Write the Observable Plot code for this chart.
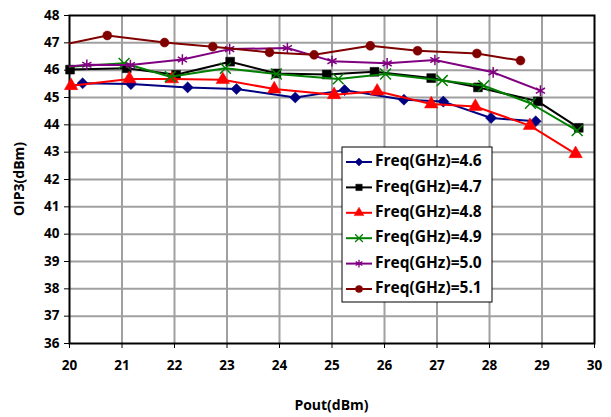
<!DOCTYPE html>
<html>
<head>
<meta charset="utf-8">
<script src="https://cdn.jsdelivr.net/npm/d3@7"></script>
<script src="https://cdn.jsdelivr.net/npm/@observablehq/plot@0.6"></script>
<style>
  html, body { margin: 0; padding: 0; background: #fff; }
  #chart svg { display: block; }
</style>
</head>
<body>
<div id="chart"></div>
<script>
// ---- data ----
const seriesNames = ["Freq(GHz)=4.6", "Freq(GHz)=4.7", "Freq(GHz)=4.8", "Freq(GHz)=4.9", "Freq(GHz)=5.0", "Freq(GHz)=5.1"];
const seriesColors = ["#000080", "#000000", "#FF0000", "#008000", "#800080", "#800000"];
const seriesSymbols = ["diamond2", "square", "triangle", "times", "asterisk", "circle"];
const seriesFilled = [true, true, true, false, false, true];

const x46 = [19.8, 20.25, 21.17, 22.25, 23.18, 24.30, 25.24, 26.37, 27.12, 28.03, 28.88];
const y46 = [45.25, 45.52, 45.49, 45.37, 45.31, 45.00, 45.27, 44.92, 44.85, 44.25, 44.13];

const x47 = [20.01, 21.09, 22.03, 23.06, 23.94, 24.90, 25.81, 26.89, 27.78, 28.92, 29.70];
const y47 = [46.02, 46.07, 45.83, 46.31, 45.88, 45.84, 45.94, 45.71, 45.37, 44.86, 43.89];

const x48 = [20.03, 21.14, 21.95, 22.92, 23.90, 25.04, 25.86, 26.89, 27.73, 28.77, 29.64];
const y48 = [45.43, 45.68, 45.68, 45.65, 45.31, 45.10, 45.23, 44.76, 44.67, 43.97, 42.94];

const x49 = [19.8, 21.04, 21.92, 22.97, 23.94, 25.12, 26.02, 27.10, 27.89, 28.78, 29.67];
const y49 = [46.10, 46.25, 45.76, 46.07, 45.86, 45.68, 45.86, 45.62, 45.43, 44.79, 43.79];

const x50 = [19.8, 20.33, 21.16, 22.15, 23.05, 24.15, 25.00, 26.05, 26.96, 28.07, 28.97];
const y50 = [46.10, 46.20, 46.19, 46.39, 46.77, 46.81, 46.33, 46.25, 46.37, 45.92, 45.25];

const x51 = [19.8, 20.72, 21.81, 22.73, 23.81, 24.66, 25.73, 26.63, 27.76, 28.59];
const y51 = [46.90, 47.27, 47.01, 46.86, 46.65, 46.56, 46.89, 46.71, 46.61, 46.35];

const xTicks = [20, 21, 22, 23, 24, 25, 26, 27, 28, 29, 30];
const yTicks = [36, 37, 38, 39, 40, 41, 42, 43, 44, 45, 46, 47, 48];
const xLabel = "Pout(dBm)";
const yLabel = "OIP3(dBm)";

// ---- build table ----
const xs = [x46, x47, x48, x49, x50, x51];
const ys = [y46, y47, y48, y49, y50, y51];
const rows = [];
xs.forEach((xa, i) => xa.forEach((x, j) => rows.push({series: seriesNames[i], idx: i, x, y: ys[i][j]})));

const FONT = "'Open Sans', 'DejaVu Sans', sans-serif";
const W = 611, H = 417;
const mL = 69, mR = 17, mT = 15, mB = 74;

const marks = [
  Plot.gridX(xTicks.slice(1, -1), {stroke: "#a0a0a0", strokeWidth: 2, strokeOpacity: 1}),
  Plot.gridY(yTicks.slice(1, -1), {stroke: "#a0a0a0", strokeWidth: 2, strokeOpacity: 1}),
  Plot.frame({stroke: "#000", strokeWidth: 2}),
  Plot.axisX(xTicks, {tickSize: 5, tickPadding: 12, fontSize: 13.5, fontWeight: "bold", label: null, stroke: "#000"}),
  Plot.axisY(yTicks, {tickSize: 5, tickPadding: 5, fontSize: 13.5, fontWeight: "bold", label: null, stroke: "#000"})
];
seriesNames.forEach((name, i) => {
  const data = rows.filter(d => d.idx === i);
  marks.push(Plot.line(data, {x: "x", y: "y", stroke: seriesColors[i], strokeWidth: 2, clip: true}));
  marks.push(Plot.dot(data.filter(d => d.x >= 20), {
    x: "x", y: "y", symbol: () => seriesSymbols[i],
    r: seriesSymbols[i] === "circle" ? 4.5 : 5,
    fill: seriesFilled[i] ? seriesColors[i] : "none",
    stroke: seriesColors[i], strokeWidth: seriesFilled[i] ? 0.5 : 1.5
  }));
});

const chart = Plot.plot({
  width: W, height: H,
  marginLeft: mL, marginRight: mR, marginTop: mT, marginBottom: mB,
  x: {domain: [20, 30]},
  y: {domain: [36, 48]},
  style: {fontFamily: FONT, color: "#000", background: "#fff", overflow: "visible"},
  marks
});
document.getElementById("chart").appendChild(chart);

// ---- axis titles and legend ----
const svg = d3.select(chart);
svg.append("text")
  .attr("x", mL + (W - mL - mR) / 2).attr("y", 406)
  .attr("text-anchor", "middle").attr("dominant-baseline", "middle")
  .attr("font-family", FONT).attr("font-size", 14).attr("font-weight", "bold")
  .text(xLabel);
svg.append("text")
  .attr("transform", `translate(20,${mT + (H - mT - mB) / 2}) rotate(-90)`)
  .attr("text-anchor", "middle").attr("dominant-baseline", "middle")
  .attr("font-family", FONT).attr("font-size", 14).attr("font-weight", "bold")
  .text(yLabel);

const lg = svg.append("g").attr("transform", "translate(342,147)");
lg.append("rect").attr("width", 150).attr("height", 155)
  .attr("fill", "#fff").attr("stroke", "#000").attr("stroke-width", 1);
const symMap = {diamond2: d3.symbolDiamond2, square: d3.symbolSquare, triangle: d3.symbolTriangle, times: d3.symbolTimes, asterisk: d3.symbolAsterisk, circle: d3.symbolCircle};
seriesNames.forEach((name, i) => {
  const yy = 15 + i * 25.4;
  const g = lg.append("g").attr("transform", `translate(0,${yy})`);
  g.append("line").attr("x1", 4).attr("x2", 30).attr("y1", 0).attr("y2", 0)
    .attr("stroke", seriesColors[i]).attr("stroke-width", 2);
  const r = 3.6;
  g.append("path").attr("transform", "translate(17,0)")
    .attr("d", d3.symbol(symMap[seriesSymbols[i]], Math.PI * r * r)())
    .attr("fill", seriesFilled[i] ? seriesColors[i] : "none")
    .attr("stroke", seriesColors[i]).attr("stroke-width", seriesFilled[i] ? 0.5 : 1.3);
  g.append("text").attr("x", 33).attr("y", 0).attr("dominant-baseline", "middle")
    .attr("text-anchor", "start")
    .attr("font-family", FONT).attr("font-size", 15.5).attr("font-weight", "bold")
    .text(name);
});
</script>
</body>
</html>
